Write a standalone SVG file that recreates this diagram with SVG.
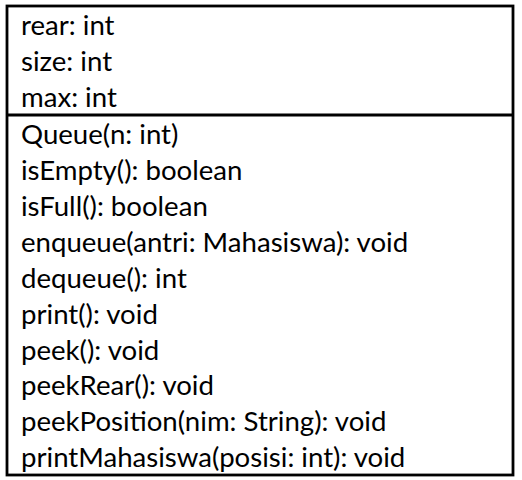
<svg xmlns="http://www.w3.org/2000/svg" width="522" height="480" viewBox="0 0 522 480">
  <style>
    .box { fill: #ffffff; stroke: #000000; stroke-width: 2.8; }
    .sep { stroke: #000000; stroke-width: 2.8; }
    .t { font-family: Lato, "Open Sans", sans-serif; font-size: 27.6px; fill: #000000; }
  </style>
  <rect width="522" height="480" fill="#ffffff"/>
  <g id="queue-class">
    <rect class="box" x="7" y="6" width="506" height="469"/>
    <line class="sep" x1="7" y1="115" x2="513" y2="115"/>
    <g id="attributes">
      <text class="t" x="21" y="35">rear: int</text>
      <text class="t" x="21" y="71">size: int</text>
      <text class="t" x="21" y="107">max: int</text>
    </g>
    <g id="operations">
      <text class="t" x="21" y="144">Queue(n: int)</text>
      <text class="t" x="21" y="180">isEmpty(): boolean</text>
      <text class="t" x="21" y="216">isFull(): boolean</text>
      <text class="t" x="21" y="252">enqueue(antri: Mahasiswa): void</text>
      <text class="t" x="21" y="288">dequeue(): int</text>
      <text class="t" x="21" y="324">print(): void</text>
      <text class="t" x="21" y="360">peek(): void</text>
      <text class="t" x="21" y="395">peekRear(): void</text>
      <text class="t" x="21" y="431">peekPosition(nim: String): void</text>
      <text class="t" x="21" y="467">printMahasiswa(posisi: int): void</text>
    </g>
  </g>
</svg>
